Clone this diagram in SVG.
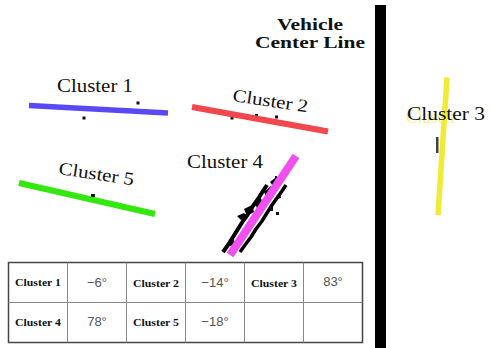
<svg xmlns="http://www.w3.org/2000/svg" width="491" height="348" viewBox="0 0 491 348">
<style>
.lbl{font-family:"Liberation Serif","Times New Roman",serif;font-size:18px;fill:#111}
.title{font-family:"Liberation Serif","Times New Roman",serif;font-size:16px;font-weight:bold;fill:#111}
.th{font-family:"Liberation Serif","Times New Roman",serif;font-size:11px;font-weight:bold;fill:#111}
.tv{font-family:"Liberation Sans",Arial,sans-serif;font-size:13px;fill:#555}
.grid{stroke:#888;stroke-width:1;fill:none}
.dot{fill:#111}
.fit{stroke-linecap:butt;fill:none}
</style>
<rect width="491" height="348" fill="#fff"/>
<g id="center-line">
<rect x="375" y="5" width="11" height="343" fill="#000"/>
<text class="title" x="277" y="30" textLength="66" lengthAdjust="spacingAndGlyphs">Vehicle</text>
<text class="title" x="255" y="48" textLength="110" lengthAdjust="spacingAndGlyphs">Center Line</text>
</g>
<g id="cluster1">
<line class="fit" x1="29" y1="105.5" x2="168" y2="113" stroke="#5a48f5" stroke-width="5.5"/>
<rect class="dot" x="136.5" y="101.5" width="3" height="3"/>
<rect class="dot" x="82.5" y="116.5" width="3" height="3"/>
<text class="lbl" x="57" y="92" textLength="76" lengthAdjust="spacingAndGlyphs">Cluster 1</text>
</g>
<g id="cluster2">
<rect class="dot" x="230.5" y="116.5" width="3" height="3"/>
<rect class="dot" x="255" y="114" width="3" height="3"/>
<rect class="dot" x="275" y="115.5" width="3" height="3"/>
<line class="fit" x1="192" y1="107" x2="328" y2="131.5" stroke="#f2484d" stroke-width="6"/>
<text class="lbl" x="0" y="0" transform="translate(232,101) rotate(8.5)" textLength="76" lengthAdjust="spacingAndGlyphs">Cluster 2</text>
</g>
<g id="cluster3">
<text class="lbl" x="406" y="123" style="fill:#eeea30;opacity:0.55" textLength="50" lengthAdjust="spacingAndGlyphs">Cluster</text>
<line class="fit" x1="447" y1="77.5" x2="438" y2="215" stroke="#f0ec35" stroke-width="5.5"/>
<rect class="dot" x="436" y="137" width="2.5" height="16" opacity="0.8"/>
<text class="lbl" x="407" y="120" textLength="78" lengthAdjust="spacingAndGlyphs">Cluster 3</text>
</g>
<g id="cluster4">
<polyline points="223,252 228,245 233,237 238,229 243,221 248,214 253,206 258,199 263,191 267,185" fill="none" stroke="#000" stroke-width="4" stroke-linejoin="round"/>
<polyline points="240,252 245,245 251,237 256,229 262,221 267,213 272,205 277,198 282,191 286,185" fill="none" stroke="#000" stroke-width="3.5" stroke-linejoin="round"/>
<path d="M237,216 l7,-3 l3,4 l-6,3z M244,209 l8,-4 l2,7 l-7,4z M255,203 l6,-5 l3,10 l-6,3z M264,192 l7,-6 l2,8 l-6,4z M270,182 l5,-4 l3,6 l-5,2z M229,241 l5,-2 l1,6 l-5,1z M276,196 l4,-2 l1,4 l-4,1z" fill="#000"/>
<rect class="dot" x="270" y="207" width="3" height="4"/>
<rect class="dot" x="276" y="212" width="3" height="3"/>
<rect class="dot" x="275" y="176" width="2" height="3"/>
<line class="fit" x1="296" y1="156" x2="230" y2="255" stroke="#f050ef" stroke-width="8"/>
<text class="lbl" x="187" y="168" textLength="76" lengthAdjust="spacingAndGlyphs">Cluster 4</text>
</g>
<g id="cluster5">
<line class="fit" x1="19" y1="183" x2="155" y2="214" stroke="#33e80f" stroke-width="6"/>
<rect class="dot" x="91" y="194" width="4" height="3"/>
<text class="lbl" x="0" y="0" transform="translate(58,174) rotate(8.5)" textLength="76" lengthAdjust="spacingAndGlyphs">Cluster 5</text>
</g>
<g id="table">
<rect x="8.5" y="262.5" width="354" height="80" fill="#fff" stroke="#444" stroke-width="1.5"/>
<line class="grid" x1="8.5" y1="302.5" x2="362.5" y2="302.5"/>
<line class="grid" x1="67.5" y1="262.5" x2="67.5" y2="342.5"/>
<line class="grid" x1="126.5" y1="262.5" x2="126.5" y2="342.5"/>
<line class="grid" x1="185.5" y1="262.5" x2="185.5" y2="342.5"/>
<line class="grid" x1="244.5" y1="262.5" x2="244.5" y2="342.5"/>
<line class="grid" x1="303.5" y1="262.5" x2="303.5" y2="342.5"/>
<g text-anchor="middle">
<text class="th" x="38" y="286" textLength="46" lengthAdjust="spacingAndGlyphs">Cluster 1</text>
<text class="tv" x="97" y="287">−6°</text>
<text class="th" x="156" y="287" textLength="46" lengthAdjust="spacingAndGlyphs">Cluster 2</text>
<text class="tv" x="215" y="287">−14°</text>
<text class="th" x="274" y="287" textLength="46" lengthAdjust="spacingAndGlyphs">Cluster 3</text>
<text class="tv" x="333" y="286">83°</text>
<text class="th" x="38" y="326" textLength="46" lengthAdjust="spacingAndGlyphs">Cluster 4</text>
<text class="tv" x="97" y="326">78°</text>
<text class="th" x="156" y="326" textLength="46" lengthAdjust="spacingAndGlyphs">Cluster 5</text>
<text class="tv" x="215" y="326">−18°</text>
</g>
</g>
</svg>
